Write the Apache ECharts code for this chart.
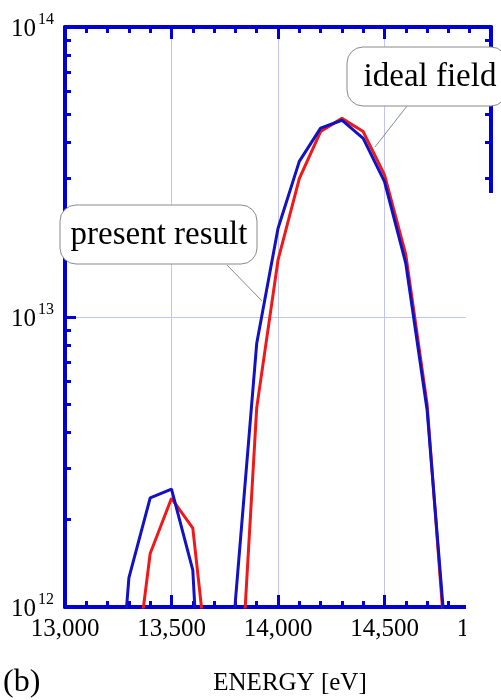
<!DOCTYPE html>
<html>
<head>
<meta charset="utf-8">
<script src="https://cdn.jsdelivr.net/npm/echarts@6/dist/echarts.min.js"></script>
<style>
  html, body { margin: 0; padding: 0; background: #fff; }
  #chart { width: 501px; height: 700px; }
</style>
</head>
<body>
<div id="chart"></div>
<script>
// energies in eV, sampled every 100 eV
const energies = [13200, 13300, 13400, 13500, 13600, 13700, 13800, 13900, 14000,
  14100, 14200, 14300, 14400, 14500, 14600, 14700, 14800];
// blue curve
const presentResult = [1.5e11, 1.26e12, 2.38e12, 2.55e12, 1.34e12, 6e10, 1.05e12, 8.1e12, 2.02e13,
  3.44e13, 4.48e13, 4.77e13, 4.13e13, 2.93e13, 1.53e13, 4.78e12, 5.9e11];
// red curve
const idealField = [1e11, 4e11, 1.53e12, 2.37e12, 1.87e12, 4e11, 2.6e11, 4.86e12, 1.57e13,
  3.0e13, 4.36e13, 4.84e13, 4.36e13, 3.09e13, 1.64e13, 5.0e12, 5.3e11];
const minorYTicks = [2e12, 3e12, 4e12, 5e12, 6e12, 7e12, 8e12, 9e12,
  2e13, 3e13, 4e13, 5e13, 6e13, 7e13, 8e13, 9e13];

const AXIS_BLUE = '#0000d4';
const SERIF = '"Liberation Serif", "DejaVu Serif", serif';
const INK = '#000';

const chart = echarts.init(document.getElementById('chart'));

const pairs = (ys) => energies.map((e, i) => [e, ys[i]]);

function xAxisCfg(pos, labels) {
  return {
    type: 'value',
    position: pos,
    min: 13000,
    max: 15000,
    interval: 500,
    axisLine: { show: true, lineStyle: { color: AXIS_BLUE, width: 4 } },
    axisTick: { show: true, inside: true, length: 12, lineStyle: { color: AXIS_BLUE, width: 3 } },
    minorTick: { show: true, splitNumber: 5, length: 6, lineStyle: { color: AXIS_BLUE, width: 3 } },
    splitLine: { show: labels, lineStyle: { color: '#c4c4f2', width: 1 } },
    axisLabel: {
      show: labels,
      margin: 10,
      color: INK,
      fontFamily: SERIF,
      fontSize: 25,
      formatter: (v) => v.toLocaleString('en-US')
    }
  };
}

function yAxisCfg(pos, major, labels) {
  return {
    type: 'log',
    logBase: 10,
    position: pos,
    min: 1e12,
    max: 1e14,
    axisLine: { show: major, lineStyle: { color: AXIS_BLUE, width: 4 } },
    axisTick: major
      ? { show: true, inside: true, length: 11, lineStyle: { color: AXIS_BLUE, width: 3 } }
      : { show: true, inside: true, length: 6, customValues: minorYTicks, lineStyle: { color: AXIS_BLUE, width: 3 } },
    splitLine: { show: labels, lineStyle: { color: '#c4c4f2', width: 1 } },
    axisLabel: {
      show: labels,
      margin: 11,
      color: INK,
      fontFamily: SERIF,
      formatter: (v) => '{b|10}{s|' + Math.round(Math.log10(v)) + '}',
      rich: {
        b: { fontSize: 25, fontFamily: SERIF, color: INK, padding: [4, 0, 0, 0] },
        s: { fontSize: 16, fontFamily: SERIF, color: INK, padding: [0, 0, 14, 2] }
      }
    }
  };
}

chart.setOption({
  animation: false,
  backgroundColor: '#fff',
  grid: { left: 65, right: 10, top: 27, bottom: 93, outerBoundsMode: 'none', containLabel: false },
  xAxis: [xAxisCfg('bottom', true), xAxisCfg('top', false)],
  yAxis: [
    yAxisCfg('left', true, true),
    yAxisCfg('left', false, false),
    yAxisCfg('right', true, false),
    yAxisCfg('right', false, false)
  ],
  series: [
    {
      name: 'ideal field',
      type: 'line',
      data: pairs(idealField),
      showSymbol: false,
      lineStyle: { color: '#f01818', width: 3 },
      z: 3
    },
    {
      name: 'present result',
      type: 'line',
      data: pairs(presentResult),
      showSymbol: false,
      lineStyle: { color: '#1212c4', width: 3 },
      z: 4
    }
  ],
  graphic: [
    // image is cut off on the right below the top axis
    { type: 'rect', z: 50, shape: { x: 466, y: 193, width: 40, height: 520 }, style: { fill: '#fff' } },
    // callout: present result
    { type: 'line', z: 60, shape: { x1: 227, y1: 265, x2: 262, y2: 301 }, style: { stroke: '#8a8a8a', lineWidth: 1 } },
    { type: 'rect', z: 60, shape: { x: 60, y: 205, width: 197, height: 59, r: 16 },
      style: { fill: '#fff', stroke: '#8a8a8a', lineWidth: 1 } },
    { type: 'text', z: 61, x: 159, y: 235,
      style: { text: 'present result', font: '33px ' + SERIF, fill: INK, align: 'center', verticalAlign: 'middle' } },
    // callout: ideal field
    { type: 'line', z: 60, shape: { x1: 407, y1: 106, x2: 375, y2: 147 }, style: { stroke: '#8a8a8a', lineWidth: 1 } },
    { type: 'rect', z: 60, shape: { x: 347, y: 47, width: 160, height: 59, r: 16 },
      style: { fill: '#fff', stroke: '#8a8a8a', lineWidth: 1 } },
    { type: 'text', z: 61, x: 430, y: 77,
      style: { text: 'ideal field', font: '33px ' + SERIF, fill: INK, align: 'center', verticalAlign: 'middle' } },
    // panel tag and axis title
    { type: 'text', z: 61, x: 3, y: 683,
      style: { text: '(b)', font: '32px ' + SERIF, fill: INK, align: 'left', verticalAlign: 'middle' } },
    { type: 'text', z: 61, x: 290, y: 683,
      style: { text: 'ENERGY [eV]', font: '25px ' + SERIF, fill: INK, align: 'center', verticalAlign: 'middle' } }
  ]
});
</script>
</body>
</html>
